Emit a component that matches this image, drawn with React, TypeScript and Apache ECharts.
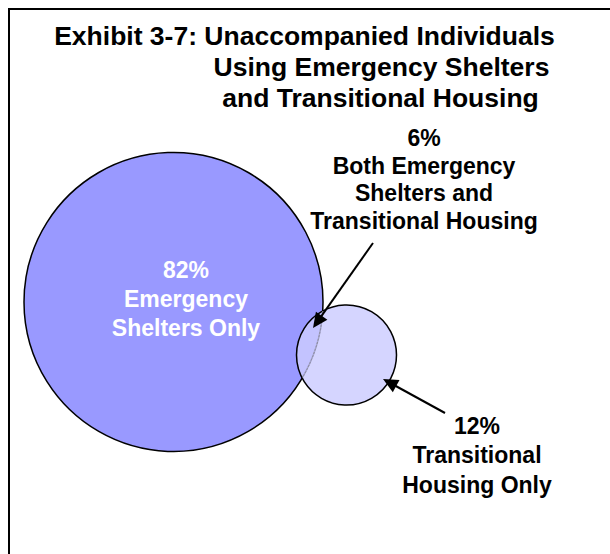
import React, { useEffect, useRef } from "react";
import * as echarts from "echarts";

// ---- data ----
const titleLines = [
  "Exhibit 3-7: Unaccompanied Individuals",
  "Using Emergency Shelters",
  "and Transitional Housing",
];
const setKeys = ["esOnly", "both", "thOnly"];
const setValues = [82, 6, 12];
const setNameLines = [
  ["Emergency", "Shelters Only"],
  ["Both Emergency", "Shelters and", "Transitional Housing"],
  ["Transitional", "Housing Only"],
];

// ---- layout (axis units, 1 unit = 1 px) ----
const W = 610;
const H = 554;
const circleES = { cx: 173.5, cy: 302, r: 149.5 };
const circleTH = { cx: 346.5, cy: 355, r: 50 };
const titleAnchors = [
  { x: 304.5, y: 36 },
  { x: 381.5, y: 67 },
  { x: 380.5, y: 98 },
];
const labelAnchors = [
  { x: 186, y: 270, gap: 29, color: "#ffffff", size: 23 },
  { x: 424, y: 138, gap: 27.5, color: "#000000", size: 23 },
  { x: 477, y: 426, gap: 29.3, color: "#000000", size: 23 },
];
const arrows = [
  { from: [373, 243], to: [313, 328] },
  { from: [445, 413], to: [383, 379] },
];

const FONT = '"Liberation Sans", Arial, Helvetica, sans-serif';

function arrowEls(a: { from: number[]; to: number[] }) {
  const [x1, y1] = a.from;
  const [x2, y2] = a.to;
  const dx = x2 - x1;
  const dy = y2 - y1;
  const L = Math.hypot(dx, dy);
  const ux = dx / L;
  const uy = dy / L;
  const hl = 15;
  const hw = 7;
  const bx = x2 - ux * hl;
  const by = y2 - uy * hl;
  return [
    {
      type: "line",
      shape: { x1, y1, x2: bx + ux * 2, y2: by + uy * 2 },
      style: { stroke: "#000", lineWidth: 2 },
      z: 20,
    },
    {
      type: "polygon",
      shape: {
        points: [
          [x2, y2],
          [bx - uy * hw, by + ux * hw],
          [bx + uy * hw, by - ux * hw],
        ],
      },
      style: { fill: "#000" },
      z: 20,
    },
  ];
}

export default function App() {
  const ref = useRef<HTMLDivElement>(null);
  useEffect(() => {
    if (!ref.current) return;
    const chart = echarts.init(ref.current, null, { renderer: "svg" });

    const circleData = [
      [circleES.cx, circleES.cy, circleES.r, setValues[0] + setValues[1]],
      [circleTH.cx, circleTH.cy, circleTH.r, setValues[2] + setValues[1]],
    ];

    const textEls: any[] = [];
    titleLines.forEach((t, i) => {
      textEls.push({
        type: "text",
        x: titleAnchors[i].x,
        y: titleAnchors[i].y,
        z: 30,
        style: {
          text: t,
          fill: "#000",
          fontSize: 26.5,
          fontWeight: "bold",
          fontFamily: FONT,
          align: "center",
          verticalAlign: "middle",
        },
      });
    });
    setKeys.forEach((k, i) => {
      const a = labelAnchors[i];
      const lines = [setValues[i] + "%", ...setNameLines[i]];
      lines.forEach((t, j) => {
        textEls.push({
          type: "text",
          x: a.x,
          y: a.y + j * a.gap,
          z: 30,
          style: {
            text: t,
            fill: a.color,
            fontSize: a.size,
            fontWeight: "bold",
            fontFamily: FONT,
            align: "center",
            verticalAlign: "middle",
          },
        });
      });
    });

    chart.setOption({
      animation: false,
      grid: { left: 0, right: 0, top: 0, bottom: 0 },
      xAxis: { type: "value", min: 0, max: W, show: false },
      yAxis: { type: "value", min: 0, max: H, inverse: true, show: false },
      series: [
        {
          type: "custom",
          coordinateSystem: "cartesian2d",
          data: circleData,
          clip: false,
          renderItem: (params: any, api: any) => {
            const c = api.coord([api.value(0), api.value(1)]);
            const r = api.size([api.value(2), 0])[0];
            if (params.dataIndex === 0) {
              return {
                type: "circle",
                shape: { cx: c[0], cy: c[1], r },
                style: { fill: "#9999FF", stroke: "#000", lineWidth: 1.5 },
              };
            }
            // small circle + dashed boundary of the big circle inside it
            const big = api.coord([circleData[0][0], circleData[0][1]]);
            const R = api.size([circleData[0][2], 0])[0];
            const dx = c[0] - big[0];
            const dy = c[1] - big[1];
            const d = Math.hypot(dx, dy);
            const base = Math.atan2(dy, dx);
            const alpha = Math.acos((d * d + R * R - r * r) / (2 * d * R));
            return {
              type: "group",
              children: [
                {
                  type: "circle",
                  shape: { cx: c[0], cy: c[1], r },
                  style: {
                    fill: "rgba(204,204,255,0.82)",
                    stroke: "#000",
                    lineWidth: 1.5,
                  },
                },
                {
                  type: "arc",
                  shape: {
                    cx: big[0],
                    cy: big[1],
                    r: R,
                    startAngle: base - alpha,
                    endAngle: base + alpha,
                    clockwise: true,
                  },
                  style: {
                    stroke: "#8a8a9a",
                    lineWidth: 1,
                    lineDash: [2, 1.5],
                    fill: null,
                  },
                },
              ],
            };
          },
        },
      ],
      graphic: [
        {
          type: "rect",
          shape: { x: 9, y: 9, width: 800, height: 800 },
          style: { fill: null, stroke: "#000", lineWidth: 2 },
          z: 10,
        },
        ...arrows.flatMap(arrowEls),
        ...textEls,
      ],
    });
    return () => chart.dispose();
  }, []);
  return (
    <div
      ref={ref}
      style={{ position: "fixed", left: 0, top: 0, width: W, height: H, background: "#fff" }}
    />
  );
}
